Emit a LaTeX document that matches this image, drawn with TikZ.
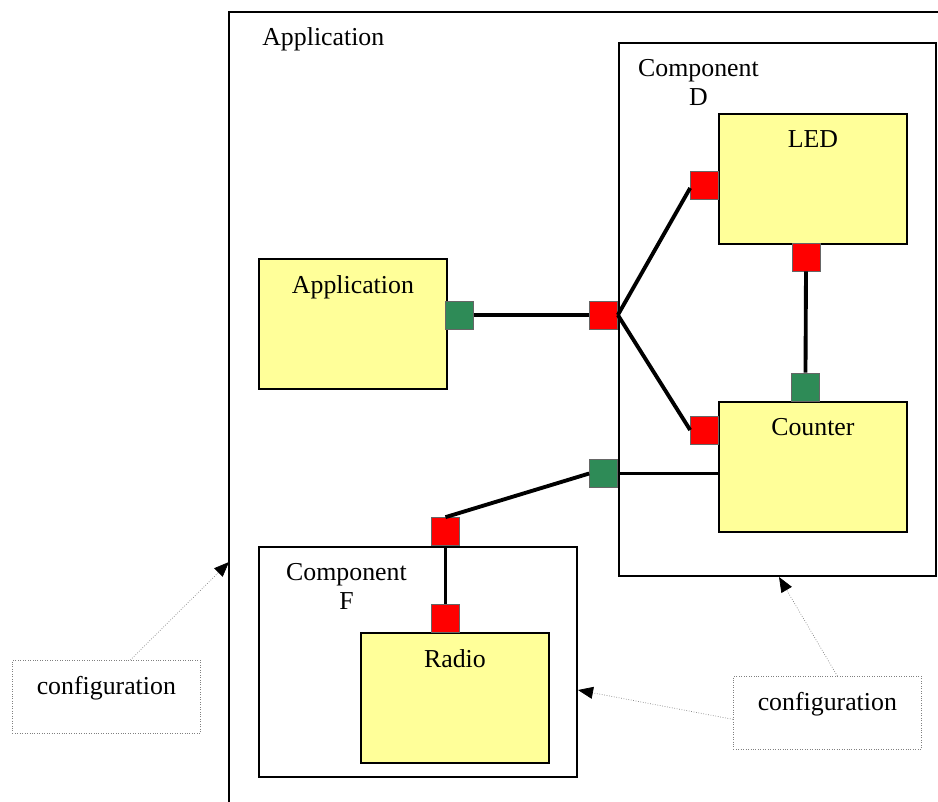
\documentclass[tikz,border=0pt]{standalone}
\usepackage{fontspec}
\setmainfont{Liberation Serif}
\usetikzlibrary{arrows.meta}
\definecolor{unityellow}{RGB}{255,255,153}
\definecolor{portgreen}{RGB}{46,139,87}
\definecolor{portred}{RGB}{255,0,0}

\begin{document}
\begin{tikzpicture}[x=0.02cm, y=-0.02cm, font=\fontsize{14.7}{14}\selectfont,
  wrapbox/.style n args={2}{draw=black, line width=1.2pt, anchor=north west, inner sep=0pt,
    label={[anchor=north west, align=center, font=\fontsize{14.7}{16.5}\selectfont,
      xshift=#2, yshift=-0.22cm]north west:#1}},
  unitbox/.style={draw=black, fill=unityellow, line width=1.1pt, anchor=north west, inner sep=0pt,
    minimum width=3.76cm, minimum height=2.6cm,
    label={[anchor=north, yshift=-0.22cm]north:#1}},
  redport/.style={draw=black!60, fill=portred, line width=0.4pt, minimum size=0.56cm, inner sep=0pt},
  greenport/.style={draw=black!60, fill=portgreen, line width=0.4pt, minimum size=0.56cm, inner sep=0pt},
  wire/.style={line width=2.2pt},
  notebox/.style={draw=gray, densely dotted, anchor=north west, minimum width=3.76cm, minimum height=1.46cm,
    label={[anchor=north, yshift=-0.2cm]north:#1}},
  cfgarrow/.style={gray, densely dotted, -{Triangle[length=0.3cm, width=0.24cm, black]}}]

\useasboundingbox (0,0) rectangle (938,802);

% outer application frame
\draw[line width=1.2pt] (229,802) -- (229,12) -- (938,12);
\node[anchor=north west, inner sep=0pt] (apptitle) at (262,27) {Application};
\coordinate (appleft) at (229,562);

% containers
\node[wrapbox={Component\\D}{0.28cm}, minimum width=6.34cm, minimum height=10.66cm] (D) at (618,42) {};
\node[wrapbox={Component\\F}{0.44cm}, minimum width=6.36cm, minimum height=4.6cm] (F) at (258,546) {};

% units
\node[unitbox=Application] (app) at (258,258) {};
\node[unitbox=LED] (led) at (718,113) {};
\node[unitbox=Counter] (cnt) at (718,401) {};
\node[unitbox=Radio] (radio) at (360,632) {};

% ports
\node[greenport] (pA) at (459.5,315) {};
\node[redport] (pD) at (603.5,315) {};
\node[redport] (pLedL) at (704.5,185) {};
\node[redport] (pLedB) at (806,257) {};
\node[greenport] (pCntT) at (805.5,387) {};
\node[redport] (pCntL) at (704.5,430) {};
\node[greenport] (pDout) at (603.5,473.5) {};
\node[redport] (pFin) at (445.5,531.5) {};
\node[redport] (pRadio) at (445.5,618) {};

% wires
\draw[wire] (pA.east) -- (pD.west);
\draw[wire] (pD.east) -- ([yshift=-0.06cm]pLedL.west);
\draw[wire] (pD.east) -- (pCntL.west);
\draw[wire] (pLedB.south) -- (pCntT.north);
\draw[wire] (pDout.east) -- (pDout.east -| cnt.west);
\draw[wire] (pDout.west) -- (pFin.north);
\draw[wire] (pFin.south) -- (pRadio.north);

% configuration notes
\node[notebox=configuration] (cfgL) at (12,660) {};
\node[notebox=configuration] (cfgR) at (733,676) {};
\draw[cfgarrow] ([xshift=0.48cm]cfgL.north) -- (appleft);
\draw[cfgarrow] ([xshift=0.2cm]cfgR.north) -- ([xshift=0.03cm]D.south);
\draw[cfgarrow] ([yshift=-0.13cm]cfgR.west) -- ([yshift=-0.56cm]F.east);
\end{tikzpicture}
\end{document}
